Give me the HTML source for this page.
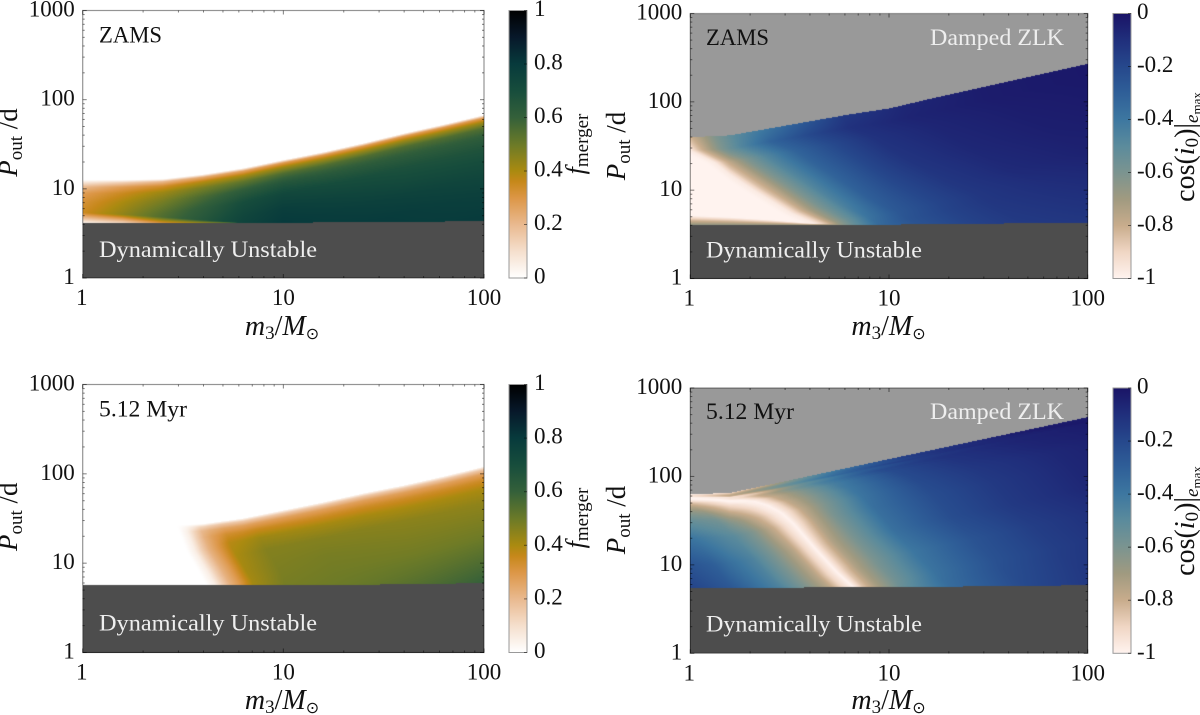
<!DOCTYPE html>
<html>
<head>
<meta charset="utf-8">
<title>Merger fraction and inclination maps</title>
<style>
html,body{margin:0;padding:0;background:#fff;}
#stage{position:relative;width:1200px;height:715px;overflow:hidden;background:#fff;}
canvas{position:absolute;display:block;}
svg{position:absolute;left:0;top:0;}
text{font-family:"Liberation Serif","DejaVu Sans",serif;}
.i{font-style:italic;}
</style>
</head>
<body>
<div id="stage">
<canvas id="c-tl"></canvas>
<canvas id="c-tr"></canvas>
<canvas id="c-bl"></canvas>
<canvas id="c-br"></canvas>
<svg id="ov" width="1200" height="715" viewBox="0 0 1200 715">
<defs id="defs"></defs>
<g id="axes"></g>

<g>
<text x="99" y="42.5" font-size="23" fill="#111" textLength="63" lengthAdjust="spacingAndGlyphs">ZAMS</text>
<text x="99" y="257" font-size="23" fill="#eee" textLength="218" lengthAdjust="spacingAndGlyphs">Dynamically Unstable</text>
<text x="706" y="45" font-size="23" fill="#111" textLength="63" lengthAdjust="spacingAndGlyphs">ZAMS</text>
<text x="930" y="45" font-size="23" fill="#eee" textLength="134" lengthAdjust="spacingAndGlyphs">Damped ZLK</text>
<text x="706" y="257.5" font-size="23" fill="#eee" textLength="216" lengthAdjust="spacingAndGlyphs">Dynamically Unstable</text>
<text x="99" y="416.5" font-size="23" fill="#111" textLength="88" lengthAdjust="spacingAndGlyphs">5.12 Myr</text>
<text x="99" y="630.5" font-size="23" fill="#eee" textLength="218" lengthAdjust="spacingAndGlyphs">Dynamically Unstable</text>
<text x="706" y="419" font-size="23" fill="#111" textLength="88" lengthAdjust="spacingAndGlyphs">5.12 Myr</text>
<text x="930" y="419" font-size="23" fill="#eee" textLength="134" lengthAdjust="spacingAndGlyphs">Damped ZLK</text>
<text x="706" y="631.5" font-size="23" fill="#eee" textLength="216" lengthAdjust="spacingAndGlyphs">Dynamically Unstable</text>
</g>

<g font-size="27" fill="#111">
<text transform="translate(17,142.5) rotate(-90)" text-anchor="middle"><tspan class="i">P</tspan><tspan font-size="19" dy="5">out</tspan><tspan dy="-5"> /d</tspan></text>
<text transform="translate(625,146) rotate(-90)" text-anchor="middle"><tspan class="i">P</tspan><tspan font-size="19" dy="5">out</tspan><tspan dy="-5"> /d</tspan></text>
<text transform="translate(17,516.7) rotate(-90)" text-anchor="middle"><tspan class="i">P</tspan><tspan font-size="19" dy="5">out</tspan><tspan dy="-5"> /d</tspan></text>
<text transform="translate(625,520) rotate(-90)" text-anchor="middle"><tspan class="i">P</tspan><tspan font-size="19" dy="5">out</tspan><tspan dy="-5"> /d</tspan></text>
</g>

<g font-size="28" fill="#111">
<text x="282" y="335" text-anchor="middle"><tspan class="i">m</tspan><tspan font-size="19" dy="4">3</tspan><tspan dy="-4">/</tspan><tspan class="i">M</tspan><tspan font-size="16" dy="4">⊙</tspan></text>
<text x="888.5" y="335" text-anchor="middle"><tspan class="i">m</tspan><tspan font-size="19" dy="4">3</tspan><tspan dy="-4">/</tspan><tspan class="i">M</tspan><tspan font-size="16" dy="4">⊙</tspan></text>
<text x="282" y="709" text-anchor="middle"><tspan class="i">m</tspan><tspan font-size="19" dy="4">3</tspan><tspan dy="-4">/</tspan><tspan class="i">M</tspan><tspan font-size="16" dy="4">⊙</tspan></text>
<text x="888.5" y="709" text-anchor="middle"><tspan class="i">m</tspan><tspan font-size="19" dy="4">3</tspan><tspan dy="-4">/</tspan><tspan class="i">M</tspan><tspan font-size="16" dy="4">⊙</tspan></text>
</g>

<g font-size="26" fill="#111">
<text transform="translate(584,144) rotate(-90)" text-anchor="middle"><tspan class="i">f</tspan><tspan font-size="19" dy="4">merger</tspan></text>
<text transform="translate(584,518) rotate(-90)" text-anchor="middle"><tspan class="i">f</tspan><tspan font-size="19" dy="4">merger</tspan></text>
<text transform="translate(1194,147) rotate(-90)" text-anchor="middle" font-size="28">cos(<tspan class="i">i</tspan><tspan font-size="19" dy="4">0</tspan><tspan dy="-4">)|</tspan><tspan class="i" font-size="19" dy="4">e</tspan><tspan font-size="13" dy="3">max</tspan></text>
<text transform="translate(1194,521) rotate(-90)" text-anchor="middle" font-size="28">cos(<tspan class="i">i</tspan><tspan font-size="19" dy="4">0</tspan><tspan dy="-4">)|</tspan><tspan class="i" font-size="19" dy="4">e</tspan><tspan font-size="13" dy="3">max</tspan></text>
</g>
</svg>
</div>

<script>
/* ---------- axis ticks ---------- */
const xTickValues = [1, 10, 100];
const xTickLabels = ["1", "10", "100"];
const yTickValues = [1, 10, 100, 1000];
const yTickLabels = ["1", "10", "100", "1000"];
const minorMultipliers = [2, 3, 4, 5, 6, 7, 8, 9];
const mergerCbarTicks = [0, 0.2, 0.4, 0.6, 0.8, 1];
const mergerCbarLabels = ["0", "0.2", "0.4", "0.6", "0.8", "1"];
const cosCbarTicks = [-1, -0.8, -0.6, -0.4, -0.2, 0];
const cosCbarLabels = ["-1", "-0.8", "-0.6", "-0.4", "-0.2", "0"];

/* ---------- colour scales ---------- */
const mergerScaleValues = [0, 0.1, 0.2, 0.3, 0.36, 0.4, 0.5, 0.6, 0.7, 0.8, 0.9, 1];
const mergerScaleColors = ["#ffffff", "#f5dfcd", "#e9b98f", "#dc9646", "#c6881a", "#aa8a10", "#6b7a28", "#34603a", "#174d3c", "#073a3c", "#07182a", "#000000"];
const cosScaleValues = [-1, -0.9, -0.8, -0.7, -0.6, -0.5, -0.4, -0.3, -0.2, -0.1, 0];
const cosScaleColors = ["#fff3ef", "#f0d6c4", "#c8ac8c", "#a09a80", "#7b9490", "#5b8b9c", "#3d77a0", "#2f5f98", "#26488c", "#202f7c", "#1a1466"];

/* ---------- shared mass nodes of boundary curves (m3 / Msun) ---------- */
const massNodes = [1, 1.58, 2.51, 3.98, 6.31, 10, 15.8, 25.1, 39.8, 63.1, 100];

/* ---------- top-left: f_merger at ZAMS ---------- */
const tlUpperP = [12.6, 12.6, 12.9, 14.5, 17, 21, 25.7, 32.4, 41.7, 52.5, 67];
const tlLowerP = [4.1, 4.1, 4.1, 4.12, 4.15, 4.17, 4.2, 4.22, 4.26, 4.3, 4.35];
const tlBandHeight = [0.12, 0.1, 0.07, 0.035, 0, 0, 0, 0, 0, 0, 0];
const tlBandValue = [0.02, 0.1, 0.3, 0.4, 0.5, 0.5, 0.5, 0.5, 0.5, 0.5, 0.5];
const tlDepth = [0, 0.03, 0.08, 0.15, 0.25, 0.38, 0.55, 0.7, 0.9, 1.2];
const tlEdgeDepth = [0];
const tlEdgeMass = [1];
const tlColumns = [0, 0.2, 0.4, 0.6, 0.8, 1, 1.3, 1.6, 2];
const tlValues = [
[0, 0, 0, 0.01, 0.02, 0.03, 0.03, 0.03, 0.03],
[0.08, 0.14, 0.2, 0.24, 0.26, 0.28, 0.28, 0.28, 0.28],
[0.2, 0.28, 0.33, 0.38, 0.4, 0.42, 0.42, 0.42, 0.42],
[0.28, 0.35, 0.42, 0.48, 0.52, 0.55, 0.55, 0.55, 0.55],
[0.32, 0.4, 0.48, 0.56, 0.62, 0.65, 0.63, 0.62, 0.62],
[0.35, 0.44, 0.54, 0.62, 0.7, 0.73, 0.7, 0.68, 0.67],
[0.38, 0.47, 0.58, 0.66, 0.74, 0.78, 0.75, 0.72, 0.71],
[0.4, 0.5, 0.6, 0.68, 0.76, 0.8, 0.78, 0.76, 0.74],
[0.4, 0.5, 0.6, 0.68, 0.76, 0.8, 0.8, 0.79, 0.77],
[0.4, 0.5, 0.6, 0.68, 0.76, 0.8, 0.8, 0.8, 0.8]
];

/* ---------- bottom-left: f_merger at 5.12 Myr ---------- */
const blUpperP = [26.3, 26.3, 26.3, 27.5, 31.6, 38.9, 47.9, 60.3, 74.1, 93.3, 120];
const blLowerP = [5.67, 5.67, 5.67, 5.67, 5.67, 5.7, 5.72, 5.75, 5.8, 5.9, 5.97];
const blBandHeight = [];
const blBandValue = [];
const blDepth = [0, 0.03, 0.08, 0.15, 0.25, 0.4, 0.6, 0.8, 1, 1.3];
const blEdgeDepth = [0, 0.3, 0.53, 0.7, 1, 1.4];
const blEdgeMass = [3.09, 3.47, 3.98, 4.37, 4.79, 5.01];
const blColumns = [-0.02, 0.02, 0.05, 0.09, 0.13, 0.2, 0.35, 0.6, 1, 1.5];
const blValues = [
[0, 0, 0, 0, 0.01, 0.02, 0.03, 0.03, 0.03, 0.03],
[0, 0.03, 0.06, 0.12, 0.14, 0.16, 0.16, 0.16, 0.16, 0.16],
[0, 0.05, 0.12, 0.2, 0.23, 0.26, 0.27, 0.27, 0.27, 0.27],
[0, 0.05, 0.13, 0.22, 0.27, 0.33, 0.35, 0.34, 0.34, 0.34],
[0, 0.05, 0.13, 0.22, 0.28, 0.38, 0.42, 0.41, 0.4, 0.4],
[0, 0.05, 0.13, 0.22, 0.28, 0.4, 0.46, 0.46, 0.45, 0.44],
[0, 0.05, 0.13, 0.22, 0.28, 0.41, 0.47, 0.48, 0.47, 0.47],
[0, 0.05, 0.13, 0.22, 0.28, 0.41, 0.48, 0.49, 0.49, 0.5],
[0, 0.05, 0.13, 0.22, 0.28, 0.42, 0.49, 0.5, 0.52, 0.55],
[0, 0.05, 0.13, 0.22, 0.28, 0.43, 0.5, 0.53, 0.57, 0.62]
];

/* ---------- top-right: cos(i0) at ZAMS ---------- */
const trUpperP = [39.8, 41.7, 50, 60, 72, 84, 107, 135, 170, 214, 269];
const trLowerP = [4, 4, 4, 4.02, 4.05, 4.08, 4.1, 4.15, 4.2, 4.24, 4.27];
const trBandHeight = [0.11, 0.09, 0.06, 0.02, 0, 0, 0, 0, 0, 0, 0];
const trBandValue = [-0.65, -0.65, -0.65, -0.65, -0.65, -0.65, -0.65, -0.65, -0.65, -0.65, -0.65];
const trDepth = [0, 0.15, 0.66, 1, 1.3, 1.83];
const trEdgeDepth = [0, 0.15, 0.3, 0.66, 1, 1.19, 1.5, 1.9];
const trEdgeMass = [0.93, 1, 1.33, 2.07, 3.22, 4.4, 6.31, 10];
const trColumns = [-0.8, -0.3, -0.1, -0.04, 0, 0.04, 0.09, 0.15, 0.25, 0.4, 0.6, 0.8, 1.1, 1.5, 2.2];
const trValues = [
[-1, -1, -0.95, -0.9, -0.86, -0.8, -0.72, -0.62, -0.5, -0.4, -0.27, -0.14, -0.07, -0.03, -0.01],
[-1, -1, -1, -1, -0.97, -0.85, -0.74, -0.62, -0.48, -0.32, -0.2, -0.11, -0.06, -0.03, -0.01],
[-1, -1, -1, -1, -0.97, -0.85, -0.75, -0.63, -0.48, -0.32, -0.2, -0.12, -0.07, -0.04, -0.015],
[-1, -1, -1, -1, -0.97, -0.85, -0.72, -0.6, -0.45, -0.3, -0.2, -0.13, -0.08, -0.05, -0.03],
[-1, -1, -1, -1, -0.97, -0.85, -0.65, -0.52, -0.35, -0.25, -0.18, -0.13, -0.1, -0.07, -0.05],
[-1, -1, -1, -1, -0.97, -0.85, -0.65, -0.5, -0.33, -0.24, -0.18, -0.15, -0.13, -0.1, -0.07]
];

/* ---------- bottom-right: cos(i0) at 5.12 Myr ---------- */
const brUpperP = [63, 65, 81, 101, 126, 157, 195, 243, 302, 376, 468];
const brLowerP = [5.53, 5.53, 5.53, 5.55, 5.57, 5.6, 5.65, 5.7, 5.75, 5.82, 5.89];
const brBandHeight = [];
const brBandValue = [];
const brDepth = [0, 0.05, 0.1, 0.2, 0.3, 0.5, 0.8, 1.1, 1.4, 2];
const brEdgeDepth = [0, 0.03, 0.05, 0.07, 0.1, 0.15, 0.23, 0.35, 0.5, 0.84, 1.16, 1.35, 1.5, 2];
const brEdgeMass = [0.4, 0.63, 1, 1.41, 1.74, 2.09, 2.45, 2.88, 3.31, 4.27, 5.5, 6.55, 7.41, 12.6];
const brColumns = [-1, -0.7, -0.5, -0.3, -0.2, -0.1, -0.04, 0, 0.04, 0.1, 0.2, 0.4, 0.7, 1, 1.4, 2];
const brValues = [
[-1, -1, -1, -1, -1, -1, -1, -1, -1, -1, -1, -1, -0.85, -0.5, -0.18, -0.03],
[-1, -1, -1, -1, -1, -1, -1, -1, -1, -1, -0.95, -0.62, -0.36, -0.18, -0.08, -0.015],
[-0.8, -0.8, -0.8, -0.8, -0.87, -0.95, -1, -1, -0.93, -0.8, -0.68, -0.46, -0.22, -0.12, -0.06, -0.01],
[-0.6, -0.6, -0.6, -0.68, -0.78, -0.9, -0.97, -1, -0.92, -0.78, -0.66, -0.42, -0.21, -0.12, -0.06, -0.01],
[-0.52, -0.52, -0.52, -0.58, -0.7, -0.85, -0.96, -1, -0.92, -0.78, -0.64, -0.4, -0.21, -0.13, -0.07, -0.01],
[-0.32, -0.32, -0.4, -0.5, -0.62, -0.8, -0.94, -1, -0.9, -0.76, -0.6, -0.37, -0.22, -0.14, -0.07, -0.015],
[-0.2, -0.22, -0.3, -0.46, -0.6, -0.76, -0.92, -1, -0.88, -0.74, -0.6, -0.37, -0.22, -0.14, -0.07, -0.015],
[-0.17, -0.18, -0.27, -0.46, -0.6, -0.76, -0.92, -1, -0.88, -0.74, -0.6, -0.4, -0.25, -0.16, -0.09, -0.025],
[-0.17, -0.18, -0.27, -0.44, -0.6, -0.76, -0.92, -1, -0.85, -0.72, -0.57, -0.38, -0.24, -0.16, -0.09, -0.04],
[-0.17, -0.18, -0.27, -0.44, -0.6, -0.76, -0.92, -1, -0.85, -0.7, -0.4, -0.3, -0.18, -0.12, -0.07, -0.03]
];

/* ---------- rendering ---------- */
const NS = "http://www.w3.org/2000/svg";
const log10 = Math.log10;
const logMassNodes = massNodes.map(log10);

function hexRgb(h) {
  return [parseInt(h.slice(1, 3), 16), parseInt(h.slice(3, 5), 16), parseInt(h.slice(5, 7), 16)];
}
function interp(xs, ys, x) {
  if (xs.length === 1) return ys[0];
  if (x <= xs[0]) return ys[0];
  const n = xs.length - 1;
  if (x >= xs[n]) return ys[n];
  let i = 0;
  while (x > xs[i + 1]) i++;
  return ys[i] + (ys[i + 1] - ys[i]) * (x - xs[i]) / (xs[i + 1] - xs[i]);
}
function locate(xs, x) {
  if (x <= xs[0]) return [0, 0];
  const n = xs.length - 1;
  if (x >= xs[n]) return [n - 1, 1];
  let i = 0;
  while (x > xs[i + 1]) i++;
  return [i, (x - xs[i]) / (xs[i + 1] - xs[i])];
}
function grid(rows, cols, vals, r, c) {
  const a = locate(rows, r), b = locate(cols, c);
  const v00 = vals[a[0]][b[0]], v01 = vals[a[0]][b[0] + 1];
  const v10 = vals[a[0] + 1][b[0]], v11 = vals[a[0] + 1][b[0] + 1];
  const top = v00 + (v01 - v00) * b[1];
  const bot = v10 + (v11 - v10) * b[1];
  return top + (bot - top) * a[1];
}
function colour(scaleV, scaleRgb, v) {
  const l = locate(scaleV, v);
  const p = scaleRgb[l[0]], q = scaleRgb[l[0] + 1];
  return [p[0] + (q[0] - p[0]) * l[1], p[1] + (q[1] - p[1]) * l[1], p[2] + (q[2] - p[2]) * l[1]];
}

const panels = [
  {id: "tl", x0: 82.7, x1: 484, y0: 10.5, y1: 278, upper: tlUpperP, lower: tlLowerP, bandH: tlBandHeight, bandV: tlBandValue, depth: tlDepth, edgeD: tlEdgeDepth, edgeM: tlEdgeMass, cols: tlColumns, vals: tlValues, kind: "merger", above: null, cbX: 509, cbW: 18},
  {id: "tr", x0: 690.3, x1: 1087.7, y0: 13.5, y1: 278.5, upper: trUpperP, lower: trLowerP, bandH: trBandHeight, bandV: trBandValue, depth: trDepth, edgeD: trEdgeDepth, edgeM: trEdgeMass, cols: trColumns, vals: trValues, kind: "cos", above: [153, 153, 153], cbX: 1113, cbW: 18},
  {id: "bl", x0: 82.7, x1: 484, y0: 384.5, y1: 652.5, upper: blUpperP, lower: blLowerP, bandH: blBandHeight, bandV: blBandValue, depth: blDepth, edgeD: blEdgeDepth, edgeM: blEdgeMass, cols: blColumns, vals: blValues, kind: "merger", above: null, cbX: 509, cbW: 18},
  {id: "br", x0: 690.3, x1: 1087.7, y0: 388, y1: 653.3, upper: brUpperP, lower: brLowerP, bandH: brBandHeight, bandV: brBandValue, depth: brDepth, edgeD: brEdgeDepth, edgeM: brEdgeMass, cols: brColumns, vals: brValues, kind: "cos", above: [153, 153, 153], cbX: 1113, cbW: 18}
];

const mergerRgb = mergerScaleColors.map(hexRgb);
const cosRgb = cosScaleColors.map(hexRgb);
const DARK = [77, 77, 77];

function xScale(p, mass) { return p.x0 + (log10(mass) / 2) * (p.x1 - p.x0); }
function yScale(p, period) { return p.y1 - (log10(period) / 3) * (p.y1 - p.y0); }

function drawHeat(p) {
  const cv = document.getElementById("c-" + p.id);
  const left = Math.round(p.x0), top = Math.round(p.y0);
  const w = Math.round(p.x1) - left, h = Math.round(p.y1) - top;
  cv.width = w; cv.height = h;
  cv.style.left = left + "px"; cv.style.top = top + "px";
  const ctx = cv.getContext("2d");
  const img = ctx.createImageData(w, h);
  const logU = p.upper.map(log10), logL = p.lower.map(log10);
  const edge = p.edgeM.map(log10);
  const sv = p.kind === "merger" ? mergerScaleValues : cosScaleValues;
  const sc = p.kind === "merger" ? mergerRgb : cosRgb;
  const hasBand = p.bandH.length > 0;
  for (let j = 0; j < h; j++) {
    const lp = 3 * (p.y1 - (top + j + 0.5)) / (p.y1 - p.y0);
    for (let i = 0; i < w; i++) {
      const lm = 2 * (left + i + 0.5 - p.x0) / (p.x1 - p.x0);
      const U = interp(logMassNodes, logU, lm);
      const L = interp(logMassNodes, logL, lm);
      let rgb, a = 255;
      if (lp < L) {
        rgb = DARK;
      } else if (lp > U) {
        if (p.above) { rgb = p.above; } else { rgb = [255, 255, 255]; a = 0; }
      } else {
        const d = U - lp;
        const u = lm - interp(p.edgeD, edge, d);
        let v = grid(p.depth, p.cols, p.vals, d, u);
        if (hasBand) {
          const H = interp(logMassNodes, p.bandH, lm);
          if (H > 0 && lp - L < H) {
            const t = (lp - L) / H;
            const bv = interp(logMassNodes, p.bandV, lm);
            v = v + (bv - v) * (1 - t);
          }
        }
        rgb = colour(sv, sc, v);
      }
      const k = 4 * (j * w + i);
      img.data[k] = rgb[0]; img.data[k + 1] = rgb[1]; img.data[k + 2] = rgb[2]; img.data[k + 3] = a;
    }
  }
  ctx.putImageData(img, 0, 0);
}

const axesLayer = document.getElementById("axes");
const defs = document.getElementById("defs");

function line(parent, x1, y1, x2, y2, stroke, sw) {
  const l = document.createElementNS(NS, "line");
  l.setAttribute("x1", x1); l.setAttribute("y1", y1);
  l.setAttribute("x2", x2); l.setAttribute("y2", y2);
  l.setAttribute("stroke", stroke); l.setAttribute("stroke-width", sw);
  parent.appendChild(l);
  return l;
}
function label(parent, x, y, str, anchor) {
  const t = document.createElementNS(NS, "text");
  t.setAttribute("x", x); t.setAttribute("y", y);
  t.setAttribute("font-size", "23");
  t.setAttribute("fill", "#111");
  t.setAttribute("text-anchor", anchor);
  t.textContent = str;
  parent.appendChild(t);
  return t;
}

function drawAxes(p) {
  const g = document.createElementNS(NS, "g");
  
  
  axesLayer.appendChild(g);
  const tickCol = "rgba(0,0,0,0.5)";
  // x ticks
  xTickValues.forEach(function (m, idx) {
    const x = xScale(p, m);
    const a = line(g, x, p.y1, x, p.y1 - 4, tickCol, 1);
    
    
    const b = line(g, x, p.y0, x, p.y0 + 4, tickCol, 1);
    
    
    const t = label(g, x - (idx === 0 ? 1 : 0), p.y1 + 27, xTickLabels[idx], "middle");
    
    
    if (idx < xTickValues.length - 1) {
      minorMultipliers.forEach(function (k) {
        const xm = xScale(p, m * k);
        const c = line(g, xm, p.y1, xm, p.y1 - 2, tickCol, 1);
        
        
        const e = line(g, xm, p.y0, xm, p.y0 + 2, tickCol, 1);
        
        
      });
    }
  });
  // y ticks
  yTickValues.forEach(function (v, idx) {
    const y = yScale(p, v);
    const a = line(g, p.x0, y, p.x0 + 4, y, tickCol, 1);
    
    
    const b = line(g, p.x1, y, p.x1 - 4, y, tickCol, 1);
    
    
    const t = label(g, p.x0 - 8, y + 6, yTickLabels[idx], "end");
    
    
    if (idx < yTickValues.length - 1) {
      minorMultipliers.forEach(function (k) {
        const ym = yScale(p, v * k);
        const c = line(g, p.x0, ym, p.x0 + 2, ym, tickCol, 1);
        
        
        const e = line(g, p.x1, ym, p.x1 - 2, ym, tickCol, 1);
        
        
      });
    }
  });
  // frame
  const fr = document.createElementNS(NS, "rect");
  fr.setAttribute("x", p.x0); fr.setAttribute("y", p.y0);
  fr.setAttribute("width", p.x1 - p.x0); fr.setAttribute("height", p.y1 - p.y0);
  fr.setAttribute("fill", "none");
  fr.setAttribute("stroke", "rgba(0,0,0,0.42)");
  fr.setAttribute("stroke-width", "1.2");
  
  
  g.appendChild(fr);
}

function drawColorbar(p) {
  const isM = p.kind === "merger";
  const sv = isM ? mergerScaleValues : cosScaleValues;
  const sc = isM ? mergerScaleColors : cosScaleColors;
  const ticks = isM ? mergerCbarTicks : cosCbarTicks;
  const labels = isM ? mergerCbarLabels : cosCbarLabels;
  const lo = sv[0], hi = sv[sv.length - 1];
  const cbScale = function (v) { return p.y1 - (v - lo) / (hi - lo) * (p.y1 - p.y0); };
  const grad = document.createElementNS(NS, "linearGradient");
  grad.setAttribute("id", "grad-" + p.id);
  grad.setAttribute("x1", "0"); grad.setAttribute("y1", "1");
  grad.setAttribute("x2", "0"); grad.setAttribute("y2", "0");
  sv.forEach(function (v, i) {
    const s = document.createElementNS(NS, "stop");
    s.setAttribute("offset", (v - lo) / (hi - lo));
    s.setAttribute("stop-color", sc[i]);
    grad.appendChild(s);
  });
  defs.appendChild(grad);
  const g = document.createElementNS(NS, "g");
  
  
  axesLayer.appendChild(g);
  const r = document.createElementNS(NS, "rect");
  r.setAttribute("x", p.cbX); r.setAttribute("y", p.y0);
  r.setAttribute("width", p.cbW); r.setAttribute("height", p.y1 - p.y0);
  r.setAttribute("fill", "url(#grad-" + p.id + ")");
  r.setAttribute("stroke", "#999");
  r.setAttribute("stroke-width", "1");
  
  
  g.appendChild(r);
  ticks.forEach(function (v, i) {
    const y = cbScale(v);
    const a = line(g, p.cbX + p.cbW, y, p.cbX + p.cbW - 3, y, "rgba(0,0,0,0.5)", 1);
    
    
    const t = label(g, p.cbX + p.cbW + (isM ? 7 : 6), y + 5.5, labels[i], "start");
    
    
  });
}

panels.forEach(function (p) {
  drawHeat(p);
  drawAxes(p);
  drawColorbar(p);
});
</script>
</body>
</html>
